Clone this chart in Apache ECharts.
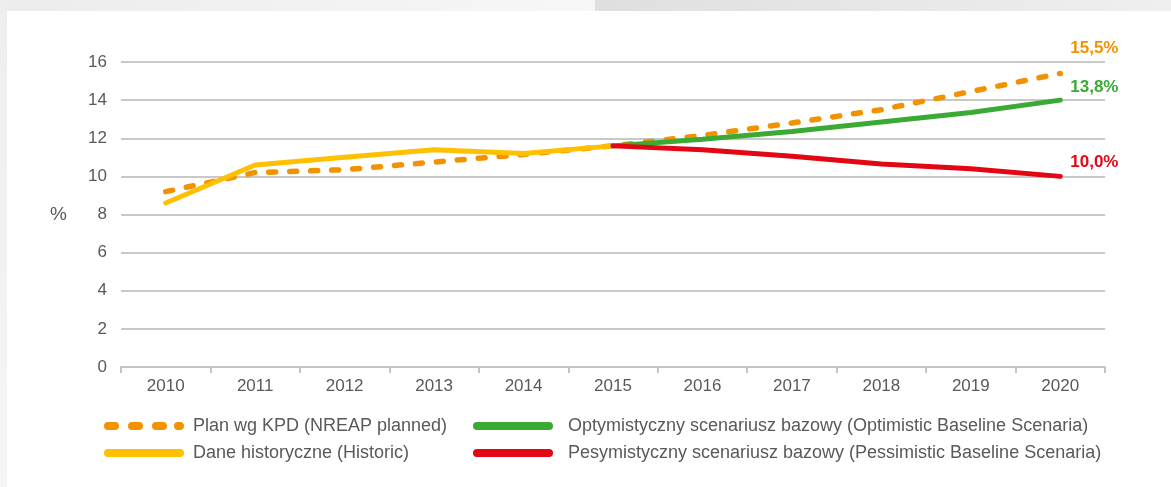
<!DOCTYPE html>
<html lang="pl">

<head>
    <meta charset="UTF-8">
    <title>Udział OZE</title>
    <script src="https://cdn.jsdelivr.net/npm/echarts@6.0.0/dist/echarts.min.js"></script>
    <style>
        body { margin: 0; background: #fff; }
        #stripTop1 { position: absolute; left: 0; top: 0; width: 595px; height: 11px; background: linear-gradient(to right, #ececec, #f7f7f7); }
        #stripTop2 { position: absolute; left: 595px; top: 0; width: 576px; height: 11px; background: linear-gradient(to right, #dfdfdf, #efefef); }
        #stripLeft { position: absolute; left: 0; top: 0; width: 7px; height: 487px; background: linear-gradient(to bottom, #eeeeee, #f5f5f5); }
        #main { position: absolute; left: 0; top: 0; width: 1171px; height: 487px; }
    </style>
</head>

<body>
    <div id="stripTop1"></div>
    <div id="stripTop2"></div>
    <div id="stripLeft"></div>
    <div id="main"></div>

    <script type="text/javascript">
        const years = ['2010', '2011', '2012', '2013', '2014', '2015', '2016', '2017', '2018', '2019', '2020'];
        const planned = [9.2, 10.2, 10.35, 10.75, 11.15, 11.6, 12.15, 12.8, 13.5, 14.45, 15.4];
        const historic = [8.6, 10.6, 11.0, 11.4, 11.2, 11.6, null, null, null, null, null];
        const optimistic = [null, null, null, null, null, 11.6, 11.95, 12.35, 12.85, 13.35, 14.0];
        const pessimistic = [null, null, null, null, null, 11.6, 11.4, 11.05, 10.65, 10.4, 10.0];
        const endLabels = ['15,5%', '13,8%', '10,0%'];
        const yTicks = { min: 0, max: 16, interval: 2 };

        const names = [
            'Plan wg KPD (NREAP planned)',
            'Dane historyczne (Historic)',
            'Optymistyczny scenariusz bazowy (Optimistic Baseline Scenaria)',
            'Pesymistyczny scenariusz bazowy (Pessimistic Baseline Scenaria)'
        ];

        const font = '"Liberation Sans", Arial, sans-serif';
        const textGray = '#595959';

        // legend icons: a thick rounded bar, and four rounded dashes for the plan
        const solidIcon = 'path://M4,0H76A4,4 0 0 1 76,8H4A4,4 0 0 1 4,0Z';
        let dashedIcon = 'path://';
        [0, 24, 48].forEach(x => {
            dashedIcon += 'M' + (x + 4) + ',0H' + (x + 11) + 'A4,4 0 0 1 ' + (x + 11) + ',8H' + (x + 4) + 'A4,4 0 0 1 ' + (x + 4) + ',0Z';
        });
        dashedIcon += 'M74,0H76A4,4 0 0 1 76,8H74A4,4 0 0 1 74,0Z';

        let myChart = echarts.init(document.getElementById('main'));

        function endLabel(text, color, dy) {
            return {
                show: true,
                formatter: text,
                color: color,
                fontFamily: font,
                fontSize: 17,
                fontWeight: 'bold',
                distance: 10,
                offset: [0, dy]
            };
        }

        let legendText = { color: textGray, fontSize: 18, fontFamily: font, padding: [0, 0, 0, 4] };

        let options = {
            animation: false,
            grid: { left: 121, right: 66, top: 62, bottom: 120 },
            legend: [
                {
                    orient: 'vertical', left: 99, top: 412, itemWidth: 80, itemHeight: 8, itemGap: 9,
                    data: [{ name: names[0], icon: dashedIcon }, { name: names[1], icon: solidIcon }],
                    textStyle: legendText
                },
                {
                    orient: 'vertical', left: 468, top: 412, itemWidth: 80, itemHeight: 8, itemGap: 9,
                    data: [{ name: names[2], icon: solidIcon }, { name: names[3], icon: solidIcon }],
                    textStyle: Object.assign({}, legendText, { padding: [0, 0, 0, 10] })
                }
            ],
            xAxis: {
                type: 'category',
                data: years,
                boundaryGap: true,
                axisLine: { lineStyle: { color: '#c4c4c4', width: 2 } },
                axisTick: { show: true, length: 6, lineStyle: { color: '#c4c4c4', width: 2 } },
                axisLabel: { color: textGray, fontSize: 17, fontFamily: font, margin: 11 }
            },
            yAxis: {
                type: 'value',
                min: yTicks.min,
                max: yTicks.max,
                interval: yTicks.interval,
                name: '%',
                nameLocation: 'middle',
                nameRotate: 0,
                nameGap: 54,
                nameTextStyle: { color: textGray, fontSize: 19, fontFamily: font },
                axisLabel: { color: textGray, fontSize: 17, fontFamily: font, margin: 14 },
                splitLine: { lineStyle: { color: '#c8c8c8', width: 2 } }
            },
            series: [
                {
                    name: names[0], type: 'line', data: planned, symbol: 'none', z: 2,
                    lineStyle: { color: '#f39200', width: 5.5, type: [7, 14], cap: 'round' },
                    itemStyle: { color: '#f39200' },
                    endLabel: endLabel(endLabels[0], '#f39200', -25)
                },
                {
                    name: names[1], type: 'line', data: historic, symbol: 'none', z: 3,
                    lineStyle: { color: '#ffc000', width: 5, cap: 'round' },
                    itemStyle: { color: '#ffc000' }
                },
                {
                    name: names[2], type: 'line', data: optimistic, symbol: 'none', z: 4,
                    lineStyle: { color: '#3aaa35', width: 5, cap: 'round' },
                    itemStyle: { color: '#3aaa35' },
                    endLabel: endLabel(endLabels[1], '#3aaa35', -13)
                },
                {
                    name: names[3], type: 'line', data: pessimistic, symbol: 'none', z: 5,
                    lineStyle: { color: '#e30613', width: 5, cap: 'round' },
                    itemStyle: { color: '#e30613' },
                    endLabel: endLabel(endLabels[2], '#e30613', -14)
                }
            ]
        };

        myChart.setOption(options);
    </script>
</body>

</html>
